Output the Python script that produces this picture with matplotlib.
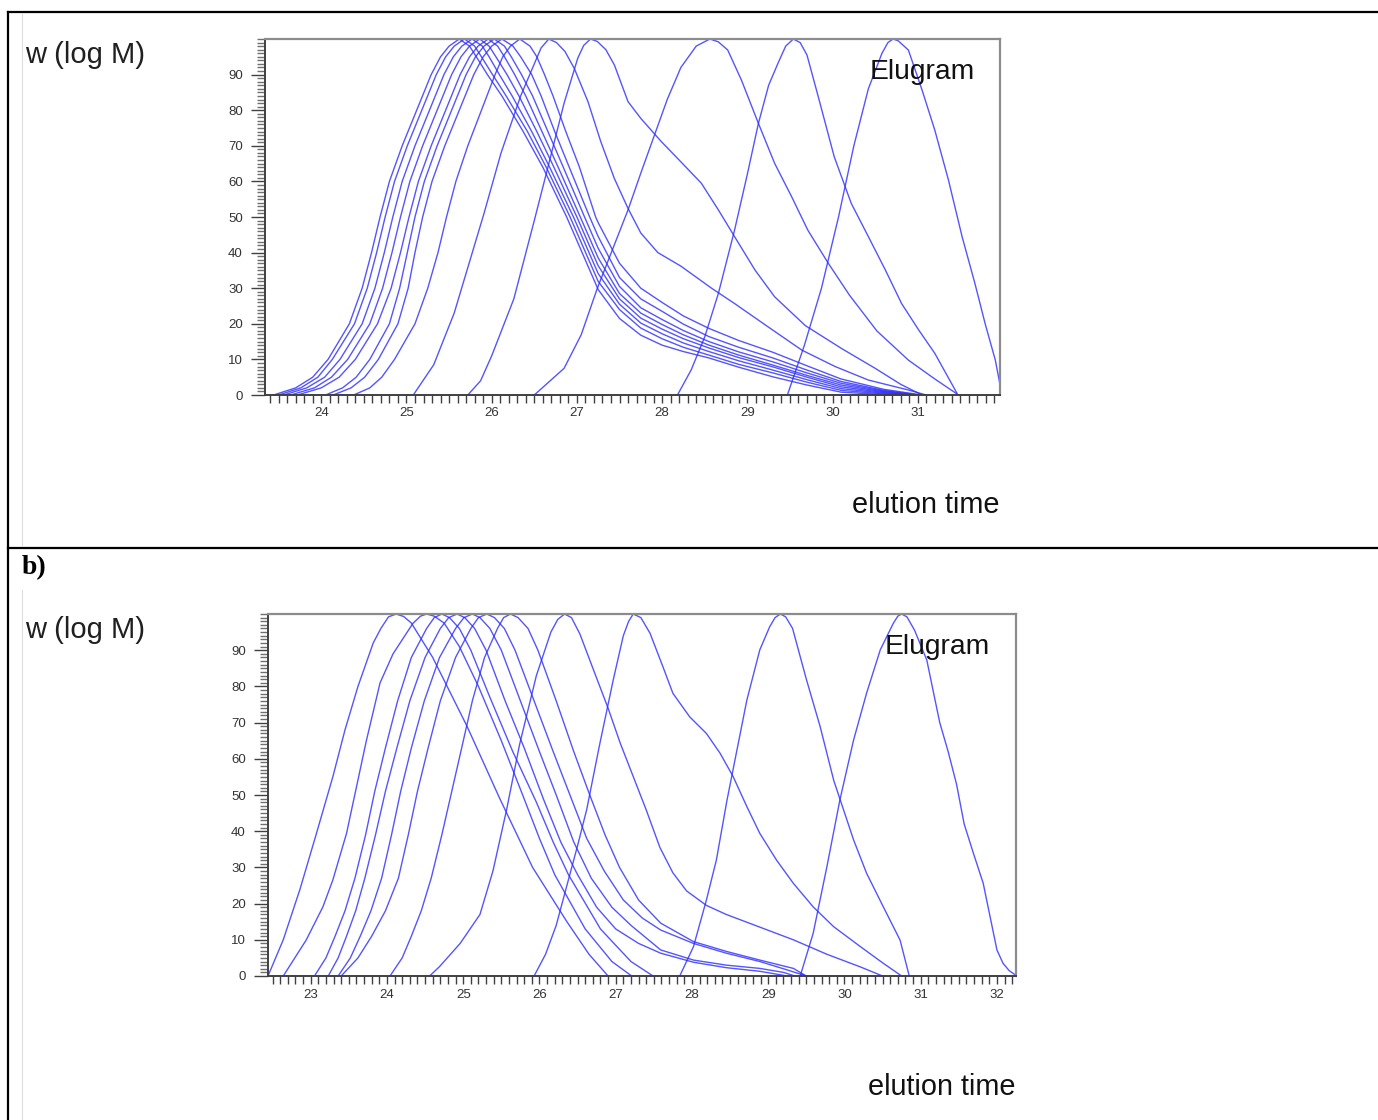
import matplotlib
matplotlib.use("Agg")
import matplotlib.pyplot as plt
from matplotlib.lines import Line2D
from matplotlib.ticker import MultipleLocator

plt.rcParams['font.family'] = ['Liberation Sans', 'DejaVu Sans']

W, H = 1378, 1120
LINE = '#2a2aff'

# ---------------- panel a ----------------
# main bundle: x read at fixed y levels on the rising and falling flank,
# then y read at fixed x positions on the tail
RISE_Y = [0, 2, 5, 10, 20, 30, 40, 50, 60, 70, 80, 90, 95, 98, 100]
FALL_Y = [98, 95, 90, 84, 74, 64, 50]
TAIL_X = [27.25, 27.5, 27.75, 28.0, 28.25, 28.55, 28.9, 29.3, 29.7, 30.1, 30.6]

a1_rise = [23.44, 23.70, 23.90, 24.08, 24.33, 24.48, 24.59, 24.69, 24.80, 24.95, 25.12, 25.29, 25.40, 25.50, 25.62]
a1_fall = [25.74, 25.82, 25.95, 26.12, 26.37, 26.60, 26.88]
a1_tail = [29.6, 21.5, 16.8, 14.0, 12.2, 10.4, 7.8, 5.1, 2.8, 0.8, 0.1]
a1_end = 30.70

a2_rise = [23.50, 23.76, 23.96, 24.13, 24.39, 24.54, 24.65, 24.75, 24.86, 25.01, 25.18, 25.35, 25.46, 25.56, 25.68]
a2_fall = [25.80, 25.88, 26.01, 26.17, 26.42, 26.64, 26.92]
a2_tail = [31.9, 24.0, 18.8, 15.8, 13.4, 11.2, 8.6, 6.2, 3.6, 1.3, 0.3]
a2_end = 30.80

a3_rise = [23.56, 23.83, 24.04, 24.22, 24.48, 24.63, 24.74, 24.84, 24.95, 25.10, 25.27, 25.44, 25.55, 25.65, 25.77]
a3_fall = [25.89, 25.97, 26.09, 26.24, 26.47, 26.68, 26.96]
a3_tail = [34.1, 25.5, 20.2, 17.2, 14.6, 12.2, 9.6, 7.0, 4.3, 1.8, 0.5]
a3_end = 30.85

a4_rise = [23.64, 23.92, 24.12, 24.31, 24.57, 24.72, 24.83, 24.93, 25.04, 25.19, 25.36, 25.53, 25.64, 25.74, 25.86]
a4_fall = [25.97, 26.05, 26.18, 26.32, 26.53, 26.73, 27.00]
a4_tail = [36.3, 27.0, 21.6, 18.5, 15.8, 13.2, 10.5, 7.9, 5.0, 2.3, 0.7]
a4_end = 30.90

a5_rise = [23.72, 24.00, 24.21, 24.40, 24.66, 24.82, 24.93, 25.03, 25.14, 25.29, 25.46, 25.63, 25.74, 25.84, 25.96]
a5_fall = [26.07, 26.15, 26.27, 26.40, 26.59, 26.78, 27.04]
a5_tail = [38.5, 28.5, 23.0, 19.8, 16.9, 14.0, 11.2, 8.4, 5.5, 2.8, 0.9]
a5_end = 30.95

a6_rise = [24.05, 24.25, 24.41, 24.57, 24.80, 24.92, 25.01, 25.10, 25.21, 25.36, 25.53, 25.70, 25.81, 25.91, 26.03]
a6_fall = [26.15, 26.23, 26.35, 26.48, 26.66, 26.84, 27.09]
a6_tail = [41.2, 30.5, 24.5, 21.2, 18.1, 15.0, 12.1, 9.3, 6.2, 3.3, 1.1]
a6_end = 31.00

a7_rise = [24.14, 24.35, 24.51, 24.67, 24.90, 25.02, 25.10, 25.19, 25.30, 25.45, 25.62, 25.79, 25.90, 26.00, 26.12]
a7_fall = [26.25, 26.34, 26.47, 26.58, 26.74, 26.91, 27.15]
a7_tail = [44.5, 33.0, 27.0, 23.5, 19.9, 16.4, 13.4, 10.4, 7.0, 3.8, 1.3]
a7_end = 31.00

a8_rise = [24.38, 24.57, 24.71, 24.86, 25.10, 25.25, 25.37, 25.47, 25.58, 25.72, 25.88, 26.04, 26.13, 26.22, 26.33]
a8_fall = [26.45, 26.53, 26.62, 26.72, 26.87, 27.03, 27.22]
a8_tail = [48.4, 37.0, 30.0, 26.0, 22.2, 18.7, 15.3, 12.0, 8.2, 4.5, 1.6]
a8_end = 31.05

# the five later peaks
aB_x = [25.08, 25.32, 25.56, 25.71, 25.91, 26.11, 26.34, 26.50, 26.58, 26.67, 26.76, 26.86, 26.97, 27.13,
        27.28, 27.44, 27.60, 27.75, 27.95, 28.22, 28.58, 28.85, 29.24, 29.64, 30.03, 30.42, 30.89, 31.10]
aB_y = [0, 8.5, 23, 35, 51, 68, 84, 93, 97.5, 100, 99, 96.5, 91.7, 82.4,
        71.2, 60.8, 52.4, 45.5, 40.0, 36.2, 30.0, 25.7, 19.2, 12.6, 8.0, 4.2, 1.4, 0]

aC_x = [25.72, 25.87, 26.00, 26.26, 26.50, 26.66, 26.85, 27.01, 27.08, 27.16, 27.24, 27.34, 27.44, 27.60,
        27.75, 27.99, 28.22, 28.46, 28.66, 28.85, 29.09, 29.32, 29.68, 30.11, 30.50, 30.80, 31.05]
aC_y = [0, 4, 11, 27, 49, 64, 82, 94.6, 98.2, 100, 99.3, 97, 92.7, 82.4,
        77.7, 71.2, 65.5, 59.5, 52.0, 44.5, 35.1, 27.6, 19.5, 13.0, 7.5, 3.0, 0]

aD_x = [26.50, 26.85, 27.05, 27.24, 27.42, 27.60, 27.76, 27.91, 28.06, 28.22, 28.40, 28.56, 28.66, 28.77,
        28.93, 29.13, 29.32, 29.52, 29.71, 29.95, 30.20, 30.52, 30.89, 31.20, 31.46]
aD_y = [0, 7.5, 16.9, 30.0, 41, 52, 63, 73, 83, 92, 98, 100, 99.2, 96.9,
        88.5, 76.3, 65.1, 55.7, 46.3, 37.0, 28.0, 18.0, 9.8, 4.5, 0.3]

aE_x = [28.18, 28.34, 28.50, 28.66, 28.85, 29.00, 29.13, 29.25, 29.36, 29.45, 29.54, 29.62, 29.70, 29.83,
        30.02, 30.22, 30.42, 30.62, 30.81, 31.01, 31.20, 31.46]
aE_y = [0, 7, 16.3, 28.5, 46.3, 62, 76.3, 87, 93.2, 98, 100, 99, 95.5, 84,
        66.9, 53.8, 44.5, 35.1, 25.7, 18.3, 11.7, 0.5]

aF_x = [29.47, 29.67, 29.87, 30.07, 30.25, 30.42, 30.58, 30.65, 30.71, 30.77, 30.89, 31.05, 31.20, 31.36,
        31.52, 31.67, 31.79, 31.91, 31.97]
aF_y = [0, 14, 30, 50, 70, 86, 96, 99, 100, 99.5, 96.9, 85.7, 74.4, 60.4,
        44.5, 31.4, 20.1, 9.8, 2.3]

# ---------------- panel b ----------------
b1_x = [22.44, 22.64, 22.86, 23.07, 23.29, 23.45, 23.62, 23.82, 23.92, 24.02, 24.12, 24.22, 24.32, 24.60,
        25.05, 25.48, 25.91, 26.36, 26.65, 26.90]
b1_y = [0, 10, 24, 39, 55, 68, 80, 92, 96, 99.2, 100, 99.3, 97.5, 88,
        69, 49, 30, 15, 6, 0]

b2_x = [22.64, 22.94, 23.16, 23.29, 23.47, 23.73, 23.91, 24.08, 24.34, 24.44, 24.52, 24.62, 24.75, 24.95,
        25.20, 25.50, 25.78, 26.00, 26.20, 26.60, 26.95, 27.21]
b2_y = [0, 9.9, 19.1, 26.5, 39.4, 65, 81, 89, 97.4, 99.4, 100, 99.4, 97.5, 91,
        80, 65, 50, 38, 28, 13, 4, 0]

B_RISE_Y = [0, 5, 11, 18, 27, 39, 51, 63, 76, 88, 96, 99, 100]

b3_rise = [23.05, 23.20, 23.32, 23.45, 23.58, 23.72, 23.84, 23.98, 24.14, 24.32, 24.52, 24.62, 24.72]
b3_fall_x = [24.82, 24.95, 25.10, 25.35, 25.65, 25.96, 26.18, 26.38, 26.80, 27.20, 27.49]
b3_fall_y = [99, 96, 90, 77, 62, 48, 37, 28, 13, 4, 0]

b4_rise = [23.23, 23.36, 23.47, 23.59, 23.71, 23.85, 23.98, 24.13, 24.30, 24.50, 24.70, 24.81, 24.92]
b4_fall_x = [25.02, 25.15, 25.30, 25.55, 25.80, 26.05, 26.28, 26.50, 26.75, 27.00, 27.30, 27.59, 28.02,
             28.45, 28.89, 29.25]
b4_fall_y = [99, 96, 90, 76, 63, 49, 37, 28, 19, 13, 9, 6.3, 3.8, 2.3, 1.3, 0]

b5_rise = [23.36, 23.52, 23.65, 23.79, 23.93, 24.06, 24.18, 24.32, 24.49, 24.69, 24.90, 25.01, 25.12]
b5_fall_x = [25.22, 25.35, 25.50, 25.75, 26.00, 26.22, 26.45, 26.68, 26.95, 27.20, 27.59, 28.02, 28.45,
             28.89, 29.20, 29.35]
b5_fall_y = [99, 96, 90, 76, 62, 50, 37, 27, 19, 14, 7.2, 4.4, 3.0, 2.1, 1.0, 0]

b6_rise = [23.40, 23.62, 23.80, 23.98, 24.15, 24.28, 24.40, 24.54, 24.70, 24.90, 25.10, 25.20, 25.31]
b6_fall_x = [25.41, 25.54, 25.68, 25.93, 26.18, 26.40, 26.62, 26.85, 27.10, 27.35, 27.59, 28.02, 28.45,
             28.89, 29.20, 29.50]
b6_fall_y = [99, 96, 90, 76, 62, 50, 38, 29, 21, 16, 12.7, 9.0, 6.3, 4.0, 2.0, 0]

b7_rise = [24.04, 24.20, 24.32, 24.45, 24.58, 24.72, 24.85, 24.98, 25.12, 25.28, 25.45, 25.53, 25.62]
b7_fall_x = [25.72, 25.85, 25.98, 26.22, 26.45, 26.66, 26.86, 27.05, 27.30, 27.59, 28.02, 28.45, 28.89,
             29.33, 29.50]
b7_fall_y = [99, 96, 90, 76, 62, 50, 39, 30, 21, 14.6, 9.5, 6.8, 4.4, 2.1, 0]

b8_x = [24.56, 24.69, 24.96, 25.22, 25.39, 25.57, 25.74, 25.96, 26.15, 26.24, 26.33, 26.42, 26.53, 26.71,
        26.90, 27.06, 27.23, 27.40, 27.58, 27.75, 27.93, 28.19, 28.45, 28.89, 29.33, 29.77, 30.21, 30.50]
b8_y = [0, 2.6, 9, 17, 29, 46, 64, 83, 95, 98.5, 100, 99, 94.5, 84.5,
        74, 64.3, 55.1, 45.9, 35.5, 28.5, 23.5, 19.5, 17.0, 13.5, 10.0, 6.0, 2.5, 0]

b9_x = [25.93, 26.08, 26.22, 26.36, 26.50, 26.62, 26.79, 26.97, 27.10, 27.17, 27.23, 27.33, 27.45, 27.62,
        27.75, 27.97, 28.19, 28.37, 28.54, 28.72, 28.89, 29.11, 29.33, 29.59, 29.86, 30.21, 30.51, 30.75]
b9_y = [0, 6, 14, 25, 36, 46, 64, 82, 94, 98, 100, 99, 94.7, 85.4,
        78.1, 71.6, 67.0, 61.5, 55.1, 46.8, 39.4, 32.0, 25.6, 19.1, 13.6, 8.1, 3.5, 0]

b10_x = [27.84, 28.02, 28.19, 28.32, 28.46, 28.59, 28.72, 28.89, 29.02, 29.09, 29.16, 29.23, 29.32, 29.50,
         29.68, 29.86, 30.12, 30.29, 30.51, 30.73, 30.85]
b10_y = [0, 8.1, 21.0, 32, 48.6, 62.4, 76.2, 90.1, 96.5, 99, 100, 99.2, 96, 82,
         69, 54, 37.6, 28.4, 19.1, 9.9, 0]

b11_x = [29.42, 29.59, 29.77, 29.94, 30.12, 30.29, 30.47, 30.64, 30.70, 30.75, 30.82, 30.92, 31.08, 31.17,
         31.25, 31.36, 31.47, 31.57, 31.69, 31.82, 31.91, 32.00, 32.08, 32.16, 32.24]
b11_y = [0, 11.8, 30.2, 48.6, 65.2, 78.1, 90.1, 97.4, 99.4, 100, 99.2, 95.5, 87.3, 78.1,
         70, 62, 53, 42, 34, 25.6, 16.4, 7.2, 3.5, 1.5, 0.3]

Y_TICKS = list(range(0, 100, 10))
A_XTICKS = list(range(24, 32))
B_XTICKS = list(range(23, 33))

# ---------------- assemble curves ----------------
curves_a = []
for rise, fall, tail, end in [(a1_rise, a1_fall, a1_tail, a1_end), (a2_rise, a2_fall, a2_tail, a2_end),
                              (a3_rise, a3_fall, a3_tail, a3_end), (a4_rise, a4_fall, a4_tail, a4_end),
                              (a5_rise, a5_fall, a5_tail, a5_end), (a6_rise, a6_fall, a6_tail, a6_end),
                              (a7_rise, a7_fall, a7_tail, a7_end), (a8_rise, a8_fall, a8_tail, a8_end)]:
    curves_a.append((rise + fall + TAIL_X + [end], RISE_Y + FALL_Y + tail + [0]))
curves_a += [(aB_x, aB_y), (aC_x, aC_y), (aD_x, aD_y), (aE_x, aE_y), (aF_x, aF_y)]

curves_b = [(b1_x, b1_y), (b2_x, b2_y)]
for rise, fx, fy in [(b3_rise, b3_fall_x, b3_fall_y), (b4_rise, b4_fall_x, b4_fall_y),
                     (b5_rise, b5_fall_x, b5_fall_y), (b6_rise, b6_fall_x, b6_fall_y),
                     (b7_rise, b7_fall_x, b7_fall_y)]:
    curves_b.append((rise + fx, B_RISE_Y + fy))
curves_b += [(b8_x, b8_y), (b9_x, b9_y), (b10_x, b10_y), (b11_x, b11_y)]


def px_rect(left, top, right, bottom):
    return [left / W, 1 - bottom / H, (right - left) / W, (bottom - top) / H]


def draw_panel(fig, rect, curves, xlim, xticks):
    ax = fig.add_axes(rect)
    for x, y in curves:
        ax.plot(x, y, color=LINE, lw=1.0, alpha=0.8, solid_joinstyle='round')
    ax.set_xlim(*xlim)
    ax.set_ylim(0, 100)
    ax.set_xticks(xticks)
    ax.xaxis.set_minor_locator(MultipleLocator(0.1))
    ax.set_yticks(Y_TICKS)
    ax.yaxis.set_minor_locator(MultipleLocator(1))
    for side in ['top', 'right']:
        ax.spines[side].set_color('#8c8c8c')
        ax.spines[side].set_linewidth(1.6)
    for side in ['left', 'bottom']:
        ax.spines[side].set_color('#404040')
        ax.spines[side].set_linewidth(1.4)
    ax.tick_params(axis='x', which='both', direction='out', length=6, width=1,
                   color='#404040', labelsize=9.5, labelcolor='#333333', pad=3)
    ax.tick_params(axis='y', which='major', direction='out', length=10, width=1,
                   color='#404040', labelsize=9.5, labelcolor='#333333', pad=6)
    ax.tick_params(axis='y', which='minor', direction='out', length=6, width=1, color='#707070')
    return ax


fig = plt.figure(figsize=(W / 100, H / 100), dpi=100)

draw_panel(fig, px_rect(265, 39, 1000, 395), curves_a, (23.34, 31.965), A_XTICKS)
draw_panel(fig, px_rect(268, 614, 1016, 976), curves_b, (22.44, 32.25), B_XTICKS)

# table borders
fig.add_artist(Line2D([8 / W, 1], [1 - 12 / H] * 2, color='black', lw=1.6))
fig.add_artist(Line2D([8 / W, 8 / W], [1 - 12 / H, 0], color='black', lw=1.6))
fig.add_artist(Line2D([8 / W, 1], [1 - 548 / H] * 2, color='black', lw=1.6))
fig.add_artist(Line2D([22 / W] * 2, [1 - 14 / H, 1 - 545 / H], color='#dedede', lw=0.8))
fig.add_artist(Line2D([22 / W] * 2, [1 - 590 / H, 0], color='#dedede', lw=0.8))

# texts
fig.text(22 / W, 1 - 568 / H, 'b)', family='Liberation Serif', weight='bold', fontsize=20,
         va='center', ha='left')
for top_y, elu_x, elu_y, right_x, et_y in [(55, 870, 72, 1000, 505), (630, 885, 647, 1016, 1087)]:
    fig.text(25 / W, 1 - top_y / H, 'w (log M)', fontsize=21, va='center', ha='left', color='#202020')
    fig.text(elu_x / W, 1 - elu_y / H, 'Elugram', fontsize=20.3, va='center', ha='left', color='#111111')
    fig.text(right_x / W, 1 - et_y / H, 'elution time', fontsize=20.8, va='center', ha='right',
             color='#111111')

fig.savefig('out.png', dpi=100)
